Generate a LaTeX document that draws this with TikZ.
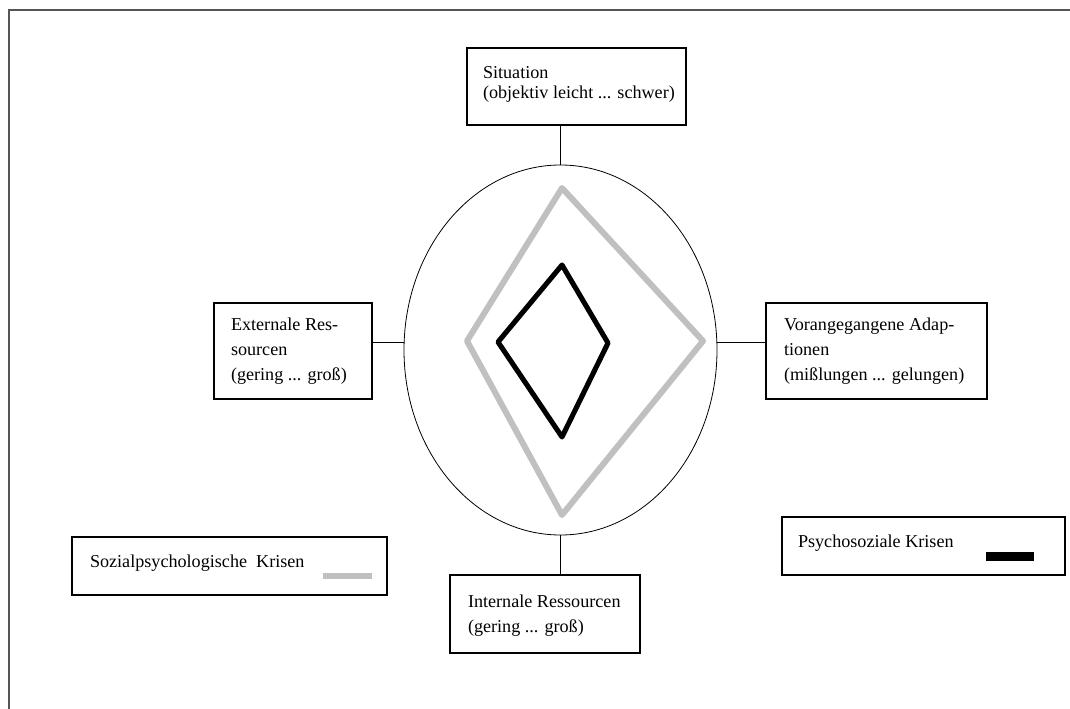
\documentclass[tikz,border=0pt]{standalone}
\usepackage{fontspec}
\setmainfont{Liberation Serif}
\usetikzlibrary{shapes.geometric}
\definecolor{diagray}{HTML}{C0C0C0}
\definecolor{framegray}{HTML}{555555}
\begin{document}
\begin{tikzpicture}[x=0.75pt,y=-0.75pt,
  box/.style={draw=black,line width=0.8pt,inner sep=0pt,outer sep=0pt,anchor=north west},
  lbl/.style={anchor=base west,inner sep=0pt,outer sep=0pt,align=left,font=\fontsize{13.6}{18.75}\selectfont},
  conn/.style={draw=black,line width=0.7pt},
  graydia/.style={draw=diagray,line width=4.5pt,line join=round},
  blackdia/.style={draw=black,line width=3.8pt,line join=round}]
\useasboundingbox (0,0) rectangle (1070,709);
% frame
\draw[framegray,line width=1.5pt] (8.5,709) -- (8.5,10.5) -- (1072,10.5);
% ellipse
\node[ellipse,draw=black,line width=0.6pt,minimum width=313*0.75pt,minimum height=370*0.75pt,inner sep=0pt,outer sep=0pt] (ell) at (560.5,350) {};
% boxes
\node[box,minimum width=219*0.75pt,minimum height=77*0.75pt] (sit) at (467,48) {};
\node[box,minimum width=158*0.75pt,minimum height=96*0.75pt] (ext) at (214,303) {};
\node[box,minimum width=221*0.75pt,minimum height=96*0.75pt] (vor) at (766,303) {};
\node[box,minimum width=190*0.75pt,minimum height=78*0.75pt] (int) at (450,575) {};
\node[box,minimum width=315*0.75pt,minimum height=58*0.75pt] (soz) at (72,537) {};
\node[box,minimum width=283*0.75pt,minimum height=58*0.75pt] (psy) at (782,517) {};
% labels (anchor at baseline of last line)
\node[lbl,font=\fontsize{13.6}{15.5}\selectfont] (sitt) at (483,99) {Situation\\(objektiv leicht ... schwer)};
\node[lbl] (extt) at (231,380) {Externale Res-\\sourcen\\(gering ... groß)};
\node[lbl] (vort) at (784,380) {Vorangegangene Adap-\\tionen\\(mißlungen ... gelungen)};
\node[lbl] (intt) at (468,632) {Internale Ressourcen\\(gering ... groß)};
\node[lbl] (sozt) at (90,567) {Sozialpsychologische\ \ Krisen};
\node[lbl] (psyt) at (798,547) {Psychosoziale Krisen};
% connectors
\coordinate (ly) at (0,342);
\draw[conn] (ell.north |- sit.south) -- (ell.north);
\draw[conn] (ell.south) -- (ell.south |- int.north);
\draw[conn] (ext.east |- ly) -- (ell.west |- ly);
\draw[conn] (ell.east |- ly) -- (vor.west |- ly);
% diamonds
\draw[graydia] (562,188) -- (703,341) -- (562,515) -- (467,341) -- cycle;
\draw[blackdia] (562,265) -- (608,343) -- (562,437) -- (498,342) -- cycle;
% legend bars
\draw[diagray,line width=5pt] (323,576) -- (372,576);
\draw[black,line width=6.5pt] (986,556.5) -- (1034,556.5);
\end{tikzpicture}
\end{document}
